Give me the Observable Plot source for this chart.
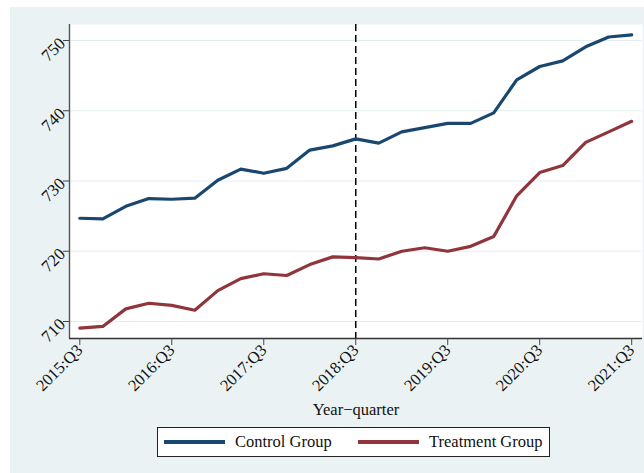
<!DOCTYPE html>
<html>
<head>
<meta charset="utf-8">
<script src="https://cdn.jsdelivr.net/npm/d3@7"></script>
<script src="https://cdn.jsdelivr.net/npm/@observablehq/plot@0.6"></script>
<style>
  body { margin: 0; background: #fff; }
  #bg { position: absolute; left: 10px; top: 7px; width: 634px; height: 466px; background: #eaf2f3; }
  #chart { position: absolute; left: 0; top: 0; }
  #legend { position: absolute; left: 157px; top: 427px; width: 391px; height: 28px;
            border: 1px solid #222; background: #fff; font: 16.5px "Liberation Serif", serif; color: #111; }
  .item { position: absolute; top: 0; height: 28px; line-height: 28px; white-space: nowrap; }
  .swatch { display: inline-block; width: 61px; height: 4px; vertical-align: middle; margin-right: 10px; margin-top: -2px; }
</style>
</head>
<body>
<div id="bg"></div>
<div id="chart"></div>
<div id="legend"></div>
<script>
// quarters, 2015:Q3 .. 2021:Q3
const quarters = [
  "2015:Q3","2015:Q4","2016:Q1","2016:Q2","2016:Q3","2016:Q4","2017:Q1","2017:Q2","2017:Q3",
  "2017:Q4","2018:Q1","2018:Q2","2018:Q3","2018:Q4","2019:Q1","2019:Q2","2019:Q3","2019:Q4",
  "2020:Q1","2020:Q2","2020:Q3","2020:Q4","2021:Q1","2021:Q2","2021:Q3"
];
const tickQuarters = ["2015:Q3","2016:Q3","2017:Q3","2018:Q3","2019:Q3","2020:Q3","2021:Q3"];
const eventQuarter = "2018:Q3";
const yTicks = [710, 720, 730, 740, 750];

const groups = ["Control Group", "Treatment Group"];
const colors = ["#1a476f", "#90353b"];

const control = [724.7,724.6,726.4,727.5,727.4,727.55,730.1,731.7,731.1,731.8,734.4,735.0,736.0,
  735.4,737.0,737.6,738.2,738.2,739.7,744.4,746.3,747.1,749.1,750.5,750.8];
const treatment = [709.05,709.3,711.8,712.6,712.3,711.6,714.4,716.1,716.8,716.55,718.1,719.2,719.1,
  718.9,720.0,720.5,720.0,720.7,722.1,727.9,731.2,732.2,735.5,737.0,738.5];

const data = [];
quarters.forEach((q, i) => {
  data.push({i: i, v: control[i], group: groups[0]});
  data.push({i: i, v: treatment[i], group: groups[1]});
});

const xDomain = [-0.448, quarters.length - 1 + 0.47];
const yDomain = [707.58, 752.28];

const chart = Plot.plot({
  width: 644,
  height: 473,
  marginLeft: 69,
  marginRight: 2,
  marginTop: 24,
  marginBottom: 135,
  style: {
    background: "transparent",
    fontFamily: "'Liberation Serif', serif",
    fontSize: "17px",
    color: "#111"
  },
  x: {domain: xDomain},
  y: {domain: yDomain},
  color: {domain: groups, range: colors},
  marks: [
    Plot.frame({fill: "white", stroke: "none"}),
    Plot.gridY(yTicks, {stroke: "#e4eef0", strokeOpacity: 1, strokeWidth: 1.2}),
    Plot.ruleX([quarters.indexOf(eventQuarter)], {stroke: "black", strokeWidth: 1.5, strokeDasharray: "7,4"}),
    Plot.line(data, {x: "i", y: "v", z: "group", stroke: "group", strokeWidth: 3.2}),
    Plot.ruleX([xDomain[0]], {stroke: "#555", strokeWidth: 1.4}),
    Plot.ruleY([yDomain[0]], {stroke: "#333", strokeWidth: 1.5}),
    Plot.axisY({
      ticks: yTicks, tickSize: 6, tickRotate: -45, tickPadding: 1, fontSize: 17,
      label: null, stroke: "#444"
    }),
    Plot.axisX({
      ticks: tickQuarters.map(q => quarters.indexOf(q)),
      tickFormat: i => quarters[i],
      tickSize: 7, tickRotate: -45, tickPadding: 2, stroke: "#444", fontSize: 16.5,
      label: "Year−quarter", labelAnchor: "center", labelArrow: "none", labelOffset: 76
    })
  ]
});
document.getElementById("chart").append(chart);

// legend
const legend = d3.select("#legend");
const lefts = [6, 200];
groups.forEach((g, k) => {
  const item = legend.append("div").attr("class", "item").style("left", lefts[k] + "px");
  item.append("span").attr("class", "swatch").style("background", colors[k]);
  item.append("span").text(g);
});
</script>
</body>
</html>
